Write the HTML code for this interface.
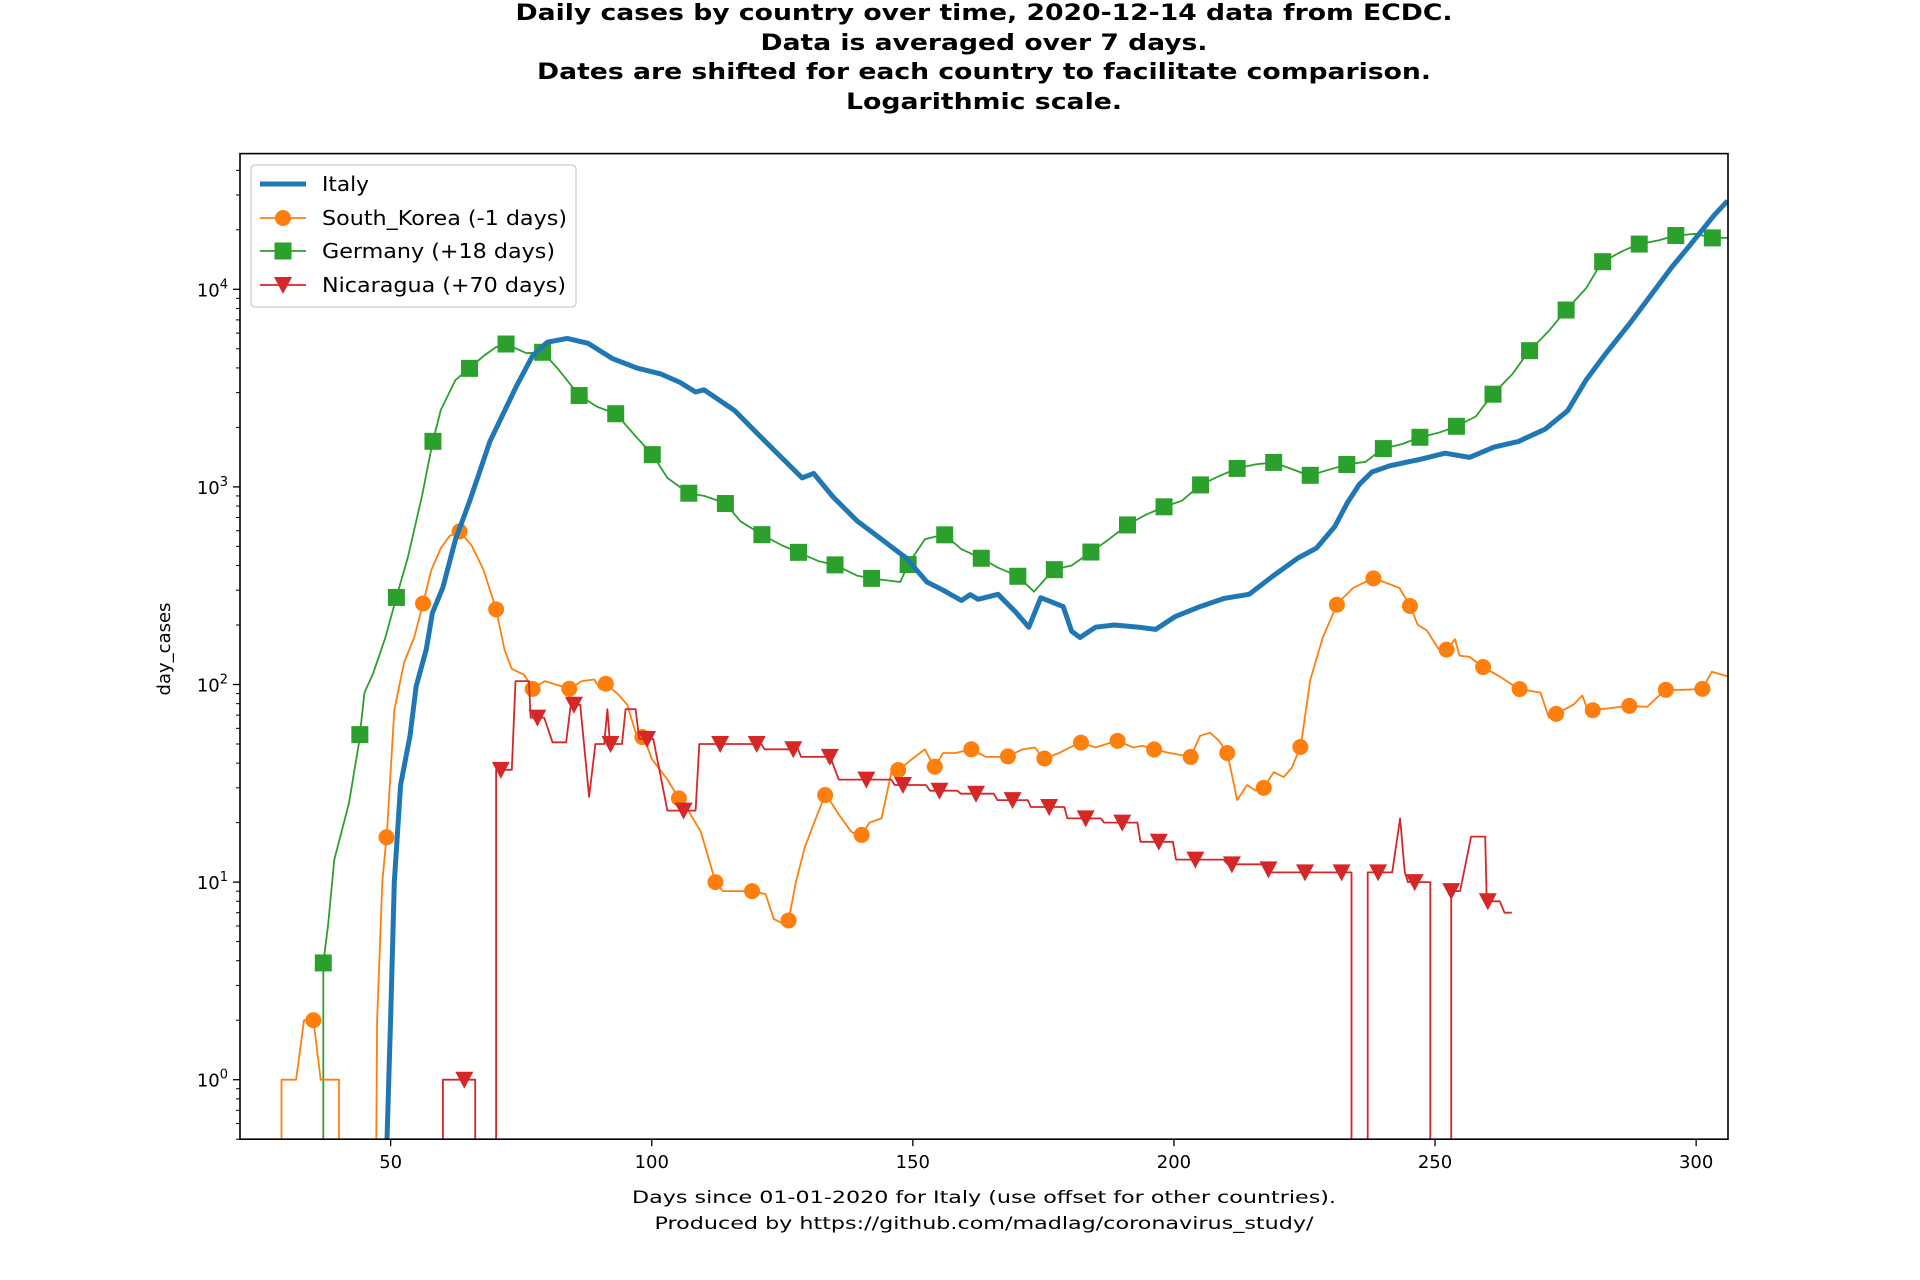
<!DOCTYPE html>
<html><head><meta charset="utf-8"><style>
html,body{margin:0;padding:0;background:#fff;}
svg{display:block;font-family:"DejaVu Sans","Liberation Sans",sans-serif;}
</style></head><body>
<svg id="chart" width="1920" height="1280" viewBox="0 0 1920 1280" xmlns="http://www.w3.org/2000/svg">
<rect width="1920" height="1280" fill="#fff"/>
<g font-weight="bold" font-size="22" text-anchor="middle" fill="#000">
<text x="984" y="20" textLength="937" lengthAdjust="spacingAndGlyphs">Daily cases by country over time, 2020-12-14 data from ECDC.</text>
<text x="984" y="50" textLength="447" lengthAdjust="spacingAndGlyphs">Data is averaged over 7 days.</text>
<text x="984" y="79" textLength="894" lengthAdjust="spacingAndGlyphs">Dates are shifted for each country to facilitate comparison.</text>
<text x="984" y="109" textLength="276" lengthAdjust="spacingAndGlyphs">Logarithmic scale.</text>
</g>
<defs><clipPath id="plotclip"><rect x="240" y="153.6" width="1488" height="985.6"/></clipPath></defs>
<g id="axes"></g>
<g id="series" clip-path="url(#plotclip)"></g>
<rect x="240" y="153.6" width="1488" height="985.6" fill="none" stroke="#000" stroke-width="1.6"/>
<g font-size="17" text-anchor="middle" fill="#000">
<text x="984" y="1203" textLength="704" lengthAdjust="spacingAndGlyphs">Days since 01-01-2020 for Italy (use offset for other countries).</text>
<text x="984" y="1229" textLength="659" lengthAdjust="spacingAndGlyphs">Produced by https://github.com/madlag/coronavirus_study/</text>
</g>
<text x="0" y="0" transform="translate(170,649) rotate(-90)" font-size="18" text-anchor="middle" fill="#000">day_cases</text>
<g id="legend"></g>
</svg>
<script>
const xTicks=[50,100,150,200,250,300];
const yDecades=[0,1,2,3,4];
const italyX=[49.3,50,50.7,51.9,53.7,54.9,56.8,58,60,62.4,65,66.6,69,71.3,74.1,77.2,80,83.8,87.8,92.4,97.1,101.8,105.4,108.4,110,115.9,120.6,125.3,128.8,131,134.7,139.4,144,148.7,152.7,155.8,159.3,161,162.5,166.3,169.8,172.2,174.5,178.8,180.4,182,185,188.6,193.3,196.5,200.3,205,209.7,214.4,219,223.8,227.3,230.8,233.2,235.5,237.9,241.4,247.2,251.9,256.6,261.3,266,271.1,275.4,278.9,282.4,287.1,290.6,295.3,298.8,303.5,306];
const italyY=[0.5,2.1,10,31,55,98,150,230,310,540,830,1100,1700,2270,3240,4620,5400,5640,5330,4470,4000,3720,3380,3020,3100,2430,1820,1370,1110,1170,890,670,543,437,330,300,266,285,270,286,231,195,275,248,186,173,195,200,195,190,221,248,273,286,355,437,490,630,830,1030,1190,1280,1380,1480,1410,1590,1700,1960,2430,3470,4620,6620,8800,12900,16700,23800,28000];
const germanyX=[37.1,37.1,38,39.2,42,43.9,45,46.6,49,51.2,53.3,56,58,59.6,62.4,65.2,67.8,70.2,72,76,79.1,81.9,86.1,89.6,93.2,97.1,100,103,107,110,114,117,121,125,128.3,132,135.1,139.4,142.2,147.6,149.2,152.3,156,159.3,163,166.3,170,173.2,176.9,180.4,184.1,187.4,191.2,194.5,198.2,201.5,205,208.5,212.1,215.6,219.1,222.6,225.9,229.6,233.2,236.7,240,243.8,247,250.7,254,257.8,260.8,264.8,267.9,271.8,274.9,278.9,281.9,285.9,288.9,292.9,296,299.9,303,306];
const germanyY=[0.3,3.9,6,13,25,50,91,113,173,282,440,900,1660,2450,3470,4000,4600,5100,5300,4750,4800,4000,2900,2540,2340,1780,1470,1110,930,900,830,670,575,505,464,420,403,355,344,330,410,543,575,484,437,390,355,295,380,400,468,540,645,720,795,850,1020,1130,1240,1300,1330,1230,1140,1220,1300,1340,1560,1650,1780,1880,2020,2270,2890,3720,4830,6160,7750,10100,13700,15600,16900,17700,18700,19100,18200,18200];
const koreaX=[29.1,29.1,31.9,33.4,35.2,36.6,40.1,40.1,47.2,47.4,48.4,49.3,50.7,52.6,54.5,56.3,57.8,59.6,61.3,63.1,65.5,67.8,70.2,71.8,73.2,75.6,77.2,79.5,84.3,86.6,89,90.1,91,93.6,95.3,97.1,98.5,100,103,105.4,107,109.4,112.2,113.6,119.2,121.8,123.4,126,127.6,129.3,131.1,133.3,135.8,138.2,140,141.7,144,145.9,147.3,149.9,152.3,154.1,155.8,158.2,161.2,164,168,171,173.4,175,178,182,185,189.1,192.2,194,196.1,199.2,203.2,205,206.9,208.6,210.2,211,212.1,214,215.7,217.2,219.1,221,222.6,224.3,226.1,228.5,231.3,234.3,238.1,240.2,243.2,245.3,246.7,248.4,250.7,252.4,253.8,254.7,256.6,259.3,262.3,266,270.2,271.8,273.2,276.5,278.2,279.1,280,283.5,287.1,290.6,294.1,297.6,301.2,303,306];
const koreaY=[0,1,1,2,2,1,1,0,0,2,10,18,74,130,173,263,380,490,565,600,505,380,240,150,120,112,95,104,95,104,106,95,102,89,79,55,54,42,33,26,23,18,10,9,9,8.7,6.5,6,10,15,20,28,22,18,17,20,21,36,37,42,47,38,45,45,47,43,43,47,48,42,45,51,48,52,48,49,47,45,43,55,57,52,45,36,26,31,29,30,36,34,38,49,105,173,257,308,345,330,308,247,200,188,151,150,170,140,138,122,110,95,91,68,71,79,88,76,74,76,78,77,94,94,95,116,110];
const nicaX=[60,60,66.2,66.2,70.2,70.2,73.2,73.9,76.5,76.8,79.4,81,83.6,84.5,86.3,88,89.2,90.9,91.5,92,94.3,95,96.9,97.6,100.3,103,108.4,109.1,121,121.6,128,128.6,134.2,135.8,145.9,146.5,152.5,153.3,158.5,159.2,165.5,166.2,172,172.6,179,179.6,186,186.6,193,193.6,199.8,200.4,209.5,210.3,217.6,218.4,234,234,237.1,237.1,241.8,243.3,244.2,244.8,249.1,249.1,253.1,253.1,254.8,256.9,259.6,259.9,262.4,263.3,264.7];
const nicaY=[0,1,1,0,0,37,37,104,104,68,68,51,51,79,79,27,50,50,75,50,50,75,75,53,53,23,23,50,50,47,47,43,43,33,33,31,31,29,29,28,28,26,26,24,24,21,21,20,20,16,16,13,13,12.3,12.3,11.2,11.2,0,0,11.2,11.2,21,11.2,10,10,0,0,9,9,17,17,8,8,7,7];
const koreaMarkStart=35.2, germanyMarkStart=37.1, nicaMarkStart=64.1, markStep=7;

const NS='http://www.w3.org/2000/svg';
const L=240,R=1728,T=153.6,B=1139.2,XMIN=21.15,XMAX=306.1,LMIN=Math.log10(0.5),LMAX=Math.log10(48600);
function xs(v){return L+(v-XMIN)/(XMAX-XMIN)*(R-L);}
function ys(v){if(v<=0)return B+40;return B-(Math.log10(v)-LMIN)/(LMAX-LMIN)*(B-T);}
function mk(tag,attrs,parent){const e=document.createElementNS(NS,tag);for(const k in attrs)e.setAttribute(k,attrs[k]);parent.appendChild(e);return e;}
const axes=document.getElementById('axes'),series=document.getElementById('series'),legend=document.getElementById('legend');

xTicks.forEach(t=>{const x=xs(t);
 const tk=mk('line',{x1:x,x2:x,y1:B,y2:B+7,stroke:'#000','stroke-width':1.3},axes);
 
 
 const lb=mk('text',{x:x,y:B+29,'font-size':18,'text-anchor':'middle',fill:'#000'},axes);lb.textContent=t;
 
 
});
yDecades.forEach(d=>{const y=ys(Math.pow(10,d));
 const tk=mk('line',{x1:L-7,x2:L,y1:y,y2:y,stroke:'#000','stroke-width':1.3},axes);
 
 
 const lb=mk('text',{x:L-12,y:y+7,'font-size':18,'text-anchor':'end',fill:'#000'},axes);
 
 
 const b=mk('tspan',{},lb);b.textContent='10';
 const s=mk('tspan',{dy:-8,'font-size':13},lb);s.textContent=String(d);
 for(let m=2;m<=9;m++){const v=m*Math.pow(10,d);const yy=ys(v);if(yy<T)continue;
  const mt=mk('line',{x1:L-4,x2:L,y1:yy,y2:yy,stroke:'#000','stroke-width':1},axes);
  
  }
});
[0.5,0.6,0.7,0.8,0.9].forEach(v=>{const yy=ys(v);if(yy>B)return;const mt=mk('line',{x1:L-4,x2:L,y1:yy,y2:yy,stroke:'#000','stroke-width':1},axes);
 
 });

function interpLog(X,Y,x){for(let i=X.length-1;i>0;i--){if(X[i-1]<=x&&x<=X[i]){const a=Y[i-1],b=Y[i];if(a<=0||b<=0)return (X[i]-x<x-X[i-1])?b:a;const f=X[i]==X[i-1]?1:(x-X[i-1])/(X[i]-X[i-1]);return Math.pow(10,Math.log10(a)+f*(Math.log10(b)-Math.log10(a)));}}return 0;}
function marker(type,x,y,color,parent,name){let e;
 if(type==='o')e=mk('circle',{cx:x,cy:y,r:8,fill:color},parent);
 else if(type==='s')e=mk('rect',{x:x-8.5,y:y-8.5,width:17,height:17,fill:color},parent);
 else e=mk('polygon',{points:(x-9)+','+(y-8)+' '+(x+9)+','+(y-8)+' '+x+','+(y+9),fill:color},parent);
 
 return e;}
function drawSeries(X,Y,color,w,name,mtype,mstart){
 const g=mk('g',{},series);
 
 
 const pts=X.map((x,i)=>xs(x).toFixed(1)+','+ys(Y[i]).toFixed(1)).join(' ');
 const pl=mk('polyline',{points:pts,fill:'none',stroke:color,'stroke-width':w,'stroke-linejoin':'round'},g);
 
 
 if(mtype){for(let d=mstart;d<=X[X.length-1]+0.01;d+=markStep){const v=interpLog(X,Y,d);if(v<0.5)continue;marker(mtype,xs(d),ys(v),color,g,name+'-marker');}}
}
drawSeries(germanyX,germanyY,'#2ca02c',1.8,'germany','s',germanyMarkStart);
drawSeries(koreaX,koreaY,'#ff7f0e',1.8,'south-korea','o',koreaMarkStart);
drawSeries(nicaX,nicaY,'#d62728',1.8,'nicaragua','v',nicaMarkStart);
drawSeries(italyX,italyY,'#1f77b4',5,'italy',null,0);

const lb=mk('rect',{x:251,y:165,width:325,height:142,rx:4,fill:'#fff','fill-opacity':0.8,stroke:'#ccc','stroke-width':1.3},legend);


const entries=[['Italy','#1f77b4',5,null,184],['South_Korea (-1 days)','#ff7f0e',1.8,'o',218],['Germany (+18 days)','#2ca02c',1.8,'s',251],['Nicaragua (+70 days)','#d62728',1.8,'v',285]];
const widths=[47,245,233,244];
entries.forEach((e,i)=>{const g=mk('g',{},legend);
 
 
 mk('line',{x1:260,x2:306,y1:e[4],y2:e[4],stroke:e[1],'stroke-width':e[2]},g);
 if(e[3])marker(e[3],283,e[4],e[1],g,'legend-marker');
 const t=mk('text',{x:322,y:e[4]+7,'font-size':20,fill:'#000',textLength:widths[i],lengthAdjust:'spacingAndGlyphs'},g);t.textContent=e[0];
});
</script>
</body></html>
